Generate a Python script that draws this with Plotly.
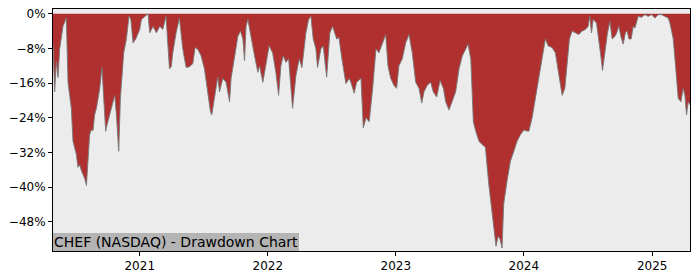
import pandas as pd
import plotly.graph_objects as go

# Time stamps as decimal years, drawdown in percent
years = [
    2020.323, 2020.336, 2020.349, 2020.362, 2020.375, 2020.388, 2020.401, 2020.427, 2020.440, 2020.453,
    2020.466, 2020.479, 2020.505, 2020.518, 2020.531, 2020.545, 2020.557, 2020.570, 2020.584, 2020.596,
    2020.609, 2020.623, 2020.635, 2020.648, 2020.662, 2020.688, 2020.705, 2020.719, 2020.734, 2020.745,
    2020.766, 2020.791, 2020.805, 2020.818, 2020.836, 2020.849, 2020.865, 2020.875, 2020.896, 2020.916,
    2020.930, 2020.948, 2020.969, 2020.987, 2021.000, 2021.013, 2021.039, 2021.065, 2021.078, 2021.104,
    2021.130, 2021.156, 2021.180, 2021.205, 2021.232, 2021.246, 2021.258, 2021.284, 2021.310, 2021.323,
    2021.336, 2021.362, 2021.388, 2021.414, 2021.432, 2021.453, 2021.479, 2021.505, 2021.531, 2021.552,
    2021.5625, 2021.584, 2021.609, 2021.623, 2021.648, 2021.674, 2021.701, 2021.713, 2021.740, 2021.766,
    2021.787, 2021.805, 2021.818, 2021.830, 2021.844, 2021.870, 2021.896, 2021.922, 2021.935, 2021.961,
    2021.987, 2022.010, 2022.037, 2022.0625, 2022.084, 2022.102, 2022.120, 2022.141, 2022.162, 2022.193,
    2022.219, 2022.245, 2022.266, 2022.297, 2022.318, 2022.336, 2022.354, 2022.375, 2022.388, 2022.414,
    2022.432, 2022.459, 2022.484, 2022.505, 2022.537, 2022.555, 2022.578, 2022.609, 2022.635, 2022.648,
    2022.674, 2022.693, 2022.727, 2022.745, 2022.766, 2022.791, 2022.818, 2022.844, 2022.867, 2022.893,
    2022.920, 2022.9375, 2022.959, 2022.984, 2023.005, 2023.023, 2023.049, 2023.076, 2023.102, 2023.127,
    2023.154, 2023.180, 2023.201, 2023.219, 2023.244, 2023.271, 2023.291, 2023.318, 2023.344, 2023.370,
    2023.388, 2023.414, 2023.440, 2023.466, 2023.492, 2023.518, 2023.545, 2023.5625, 2023.584, 2023.604,
    2023.623, 2023.648, 2023.674, 2023.698, 2023.724, 2023.745, 2023.763, 2023.781, 2023.797, 2023.8125,
    2023.828, 2023.841, 2023.867, 2023.893, 2023.920, 2023.945, 2023.971, 2023.998, 2024.016, 2024.037,
    2024.0625, 2024.088, 2024.115, 2024.141, 2024.166, 2024.1875, 2024.219, 2024.244, 2024.271, 2024.297,
    2024.318, 2024.336, 2024.354, 2024.375, 2024.398, 2024.427, 2024.453, 2024.479, 2024.500, 2024.513,
    2024.526, 2024.539, 2024.565, 2024.583, 2024.599, 2024.612, 2024.630, 2024.651, 2024.670, 2024.6875,
    2024.709, 2024.723, 2024.740, 2024.755, 2024.773, 2024.791, 2024.805, 2024.818, 2024.836, 2024.852,
    2024.865, 2024.877, 2024.891, 2024.916, 2024.943, 2024.969, 2024.995, 2025.021, 2025.047, 2025.073,
    2025.099, 2025.125, 2025.138, 2025.164, 2025.182, 2025.203, 2025.224, 2025.242, 2025.255, 2025.268,
    2025.281, 2025.295,
]
drawdown = [
    -7.0, -18.0, -11.0, -14.7, -8.1, -5.2, -2.9, -1.0, -15.8, -18.8,
    -21.8, -29.4, -32.4, -35.4, -34.8, -36.2, -37.0, -38.0, -39.6, -34.7,
    -27.9, -26.7, -27.0, -23.3, -21.8, -17.2, -12.4, -19.5, -27.1, -25.6,
    -23.3, -20.3, -18.8, -23.3, -31.7, -19.5, -13.5, -9.0, -5.8, -0.6,
    -1.2, -6.7, -5.8, -4.4, -3.6, -1.3, -0.6, 0.0, -4.4, -2.9,
    -4.4, -2.9, -3.6, -0.6, -12.7, -12.2, -9.0, -4.4, -1.0, -4.4,
    -8.1, -12.4, -12.2, -11.5, -7.8, -8.2, -9.7, -12.7, -18.8, -22.6,
    -23.3, -18.8, -14.6, -18.0, -14.9, -15.8, -20.3, -14.9, -9.7, -5.2,
    -4.0, -5.8, -10.8, -2.9, -1.3, -5.8, -9.7, -13.5, -12.0, -15.8,
    -11.2, -7.4, -9.0, -13.5, -18.8, -12.0, -9.7, -11.2, -10.4, -21.8,
    -14.3, -10.4, -12.4, -4.4, -1.3, -0.6, -5.8, -8.1, -12.4, -8.1,
    -7.4, -14.6, -4.4, -2.9, -5.8, -5.5, -10.4, -16.1, -14.9, -15.8,
    -18.3, -15.8, -14.9, -26.3, -24.0, -24.9, -17.2, -8.1, -9.0, -6.7,
    -4.8, -12.0, -14.9, -16.5, -17.2, -12.0, -10.4, -6.7, -4.8, -9.0,
    -15.8, -17.2, -20.6, -18.0, -16.5, -15.8, -18.0, -19.2, -15.4, -17.2,
    -20.3, -22.2, -20.3, -18.0, -12.7, -9.7, -8.1, -7.0, -10.4, -24.9,
    -27.1, -29.4, -30.2, -30.8, -39.2, -44.5, -49.9, -53.6, -51.3, -52.0,
    -54.0, -43.8, -38.5, -34.0, -31.7, -29.4, -27.9, -26.8, -27.0, -27.1,
    -24.0, -19.5, -14.3, -9.7, -5.8, -7.4, -7.8, -9.0, -13.5, -18.8,
    -17.2, -10.4, -5.8, -4.0, -4.4, -4.8, -4.0, -3.6, -2.9, -0.6,
    -4.4, -1.3, -2.1, -5.8, -9.7, -13.1, -9.0, -4.4, -1.8, -5.8,
    -5.2, -4.4, -2.9, -5.2, -7.0, -4.4, -4.0, -5.8, -5.8, -2.9,
    -3.3, -1.8, -0.6, -0.8, -0.2, -0.6, -0.2, -1.0, -0.2, -0.2,
    -0.6, -1.0, -2.1, -5.8, -12.0, -19.5, -20.3, -17.2, -18.8, -23.3,
    -20.3, -21.0,
]
y_tick_vals = [0, -8, -16, -24, -32, -40, -48]
y_tick_text = ["0%", "\u22128%", "\u221216%", "\u221224%", "\u221232%", "\u221240%", "\u221248%"]
x_tick_years = ["2021", "2022", "2023", "2024", "2025"]
title_text = "CHEF (NASDAQ) - Drawdown Chart"

base = pd.Timestamp("2021-01-01")
dates = [base + pd.to_timedelta((y - 2021) * 365.25, unit="D") for y in years]
x_ticks = [pd.Timestamp(f"{y}-01-01") for y in x_tick_years]

fig = go.Figure()
fig.add_trace(go.Scatter(
    x=dates, y=drawdown, mode="lines", fill="tozeroy",
    fillcolor="#b03030", line=dict(color="rgba(120,120,120,0.9)", width=1),
    hoverinfo="skip", showlegend=False,
))

fig.update_layout(
    width=700, height=280,
    margin=dict(l=53, r=10, t=7, b=28),
    paper_bgcolor="white", plot_bgcolor="#ececec",
    font=dict(family="DejaVu Sans", size=12, color="black"),
    xaxis=dict(
        range=[dates[0], dates[-1]], tickvals=x_ticks, ticktext=x_tick_years,
        showgrid=False, zeroline=False, showline=True, linecolor="black", linewidth=1,
        mirror=True, ticks="outside", ticklen=4, tickcolor="black",
    ),
    yaxis=dict(
        range=[-54.7, 1.1], tickvals=y_tick_vals, ticktext=y_tick_text,
        showgrid=False, zeroline=False, showline=True, linecolor="black", linewidth=1,
        mirror=True, ticks="outside", ticklen=4, tickcolor="black",
    ),
    annotations=[dict(
        text=title_text, xref="paper", yref="paper", x=0, y=0,
        xanchor="left", yanchor="bottom", showarrow=False,
        font=dict(family="DejaVu Sans", size=14, color="black"),
        bgcolor="#b4b4b4", borderpad=1, borderwidth=0,
    )],
)

fig.write_html("out.html")
